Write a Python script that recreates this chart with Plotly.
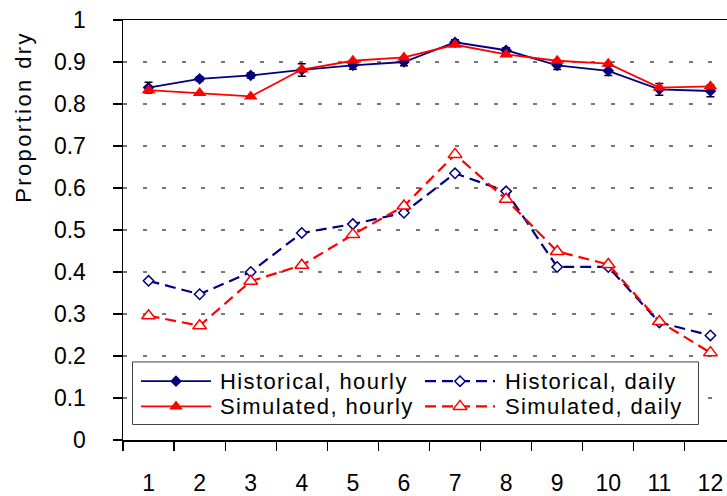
import plotly.graph_objects as go

# ---------------- data ----------------
months = [1, 2, 3, 4, 5, 6, 7, 8, 9, 10, 11, 12]
month_labels = ["1", "2", "3", "4", "5", "6", "7", "8", "9", "10", "11", "12"]

hist_hourly = [0.839, 0.860, 0.868, 0.881, 0.892, 0.900, 0.947, 0.928, 0.892, 0.879, 0.835, 0.831]
hist_hourly_err = [0.013, 0.005, 0.006, 0.015, 0.009, 0.009, 0.006, 0.006, 0.010, 0.011, 0.014, 0.014]
sim_hourly = [0.833, 0.826, 0.818, 0.882, 0.903, 0.911, 0.941, 0.918, 0.903, 0.896, 0.839, 0.842]
hist_daily = [0.379, 0.347, 0.400, 0.493, 0.514, 0.541, 0.635, 0.592, 0.412, 0.412, 0.280, 0.249]
sim_daily = [0.296, 0.272, 0.378, 0.416, 0.489, 0.557, 0.680, 0.573, 0.449, 0.418, 0.282, 0.208]

y_ticks = [0, 0.1, 0.2, 0.3, 0.4, 0.5, 0.6, 0.7, 0.8, 0.9, 1]
y_tick_labels = ["0", "0.1", "0.2", "0.3", "0.4", "0.5", "0.6", "0.7", "0.8", "0.9", "1"]
series_names = ["Historical, hourly", "Historical, daily", "Simulated, hourly", "Simulated, daily"]
y_title = "Proportion dry"

# ---------------- style ----------------
NAVY = "#000080"
RED = "#FF0000"
FONT = "Liberation Sans, Arial, sans-serif"
DASH = "11px,6px"
W, H = 727, 496
L, R, T, B = 123, 727, 20, 445

fig = go.Figure()

fig.add_trace(go.Scatter(
    x=months, y=hist_hourly, mode="lines+markers", name=series_names[0],
    line=dict(color=NAVY, width=1.8),
    marker=dict(symbol="diamond", size=9, color=NAVY),
    error_y=dict(type="data", array=hist_hourly_err, visible=True,
                 color="black", thickness=1.5, width=4),
    showlegend=False))
fig.add_trace(go.Scatter(
    x=months, y=sim_hourly, mode="lines+markers", name=series_names[2],
    line=dict(color=RED, width=1.8),
    marker=dict(symbol="triangle-up", size=12, color=RED),
    showlegend=False))
fig.add_trace(go.Scatter(
    x=months, y=hist_daily, mode="lines+markers", name=series_names[1],
    line=dict(color=NAVY, width=2.2, dash=DASH),
    marker=dict(symbol="diamond", size=8, color="white", line=dict(color=NAVY, width=1.5)),
    showlegend=False))
fig.add_trace(go.Scatter(
    x=months, y=sim_daily, mode="lines+markers", name=series_names[3],
    line=dict(color=RED, width=2.2, dash=DASH),
    marker=dict(symbol="triangle-up", size=12, color="white", line=dict(color=RED, width=1.5)),
    showlegend=False))

# ---------------- custom legend on an overlay pixel axis ----------------
def py(v):
    return H - v

box_l, box_r, box_t, box_b = 132.5, 698.5, 366, 429.3
fig.add_trace(go.Scatter(
    x=[box_l, box_r, box_r, box_l, box_l],
    y=[py(box_t), py(box_t), py(box_b), py(box_b), py(box_t)],
    mode="lines", fill="toself", fillcolor="white",
    line=dict(color="#404040", width=1), xaxis="x2", yaxis="y2",
    showlegend=False, hoverinfo="skip"))

rows = [385.5, 411.0]
cols = [(141, 211, 218), (425, 495, 503)]
legend_specs = [
    (0, 0, NAVY, "solid", dict(symbol="diamond", size=9, color=NAVY)),
    (0, 1, NAVY, DASH, dict(symbol="diamond", size=8, color="white", line=dict(color=NAVY, width=1.5))),
    (1, 0, RED, "solid", dict(symbol="triangle-up", size=12, color=RED)),
    (1, 1, RED, DASH, dict(symbol="triangle-up", size=12, color="white", line=dict(color=RED, width=1.5))),
]
annotations = []
for (ri, ci, col, dash, mk), name in zip(legend_specs, series_names):
    x0, x1, xt = cols[ci]
    yy = py(rows[ri])
    fig.add_trace(go.Scatter(
        x=[x0, x1], y=[yy, yy], mode="lines",
        line=dict(color=col, width=1.8 if dash == "solid" else 2.2, dash=dash),
        xaxis="x2", yaxis="y2", showlegend=False, hoverinfo="skip"))
    fig.add_trace(go.Scatter(
        x=[(x0 + x1) / 2], y=[yy], mode="markers", marker=mk,
        xaxis="x2", yaxis="y2", showlegend=False, hoverinfo="skip"))
    annotations.append(dict(
        x=xt, y=yy, xref="x2", yref="y2", xanchor="left", yanchor="middle",
        text='<span style="letter-spacing:1.4px">%s</span>' % name,
        showarrow=False, font=dict(family=FONT, size=22, color="black")))

# y-axis title
annotations.append(dict(
    x=(24 - L) / (R - L), y=(B - 118) / (B - T), xref="paper", yref="paper",
    xanchor="center", yanchor="middle", textangle=-90,
    text='<span style="letter-spacing:2.4px">%s</span>' % y_title,
    showarrow=False, font=dict(family=FONT, size=22, color="black")))

fig.update_layout(
    width=W, height=H,
    margin=dict(l=L, r=W - R, t=T, b=H - B, pad=0),
    paper_bgcolor="white", plot_bgcolor="white",
    font=dict(family=FONT, size=23, color="black"),
    showlegend=False, hovermode=False,
    annotations=annotations,
    xaxis=dict(
        range=[0.5, 0.5 + (R - L) / 51.08],
        tickmode="array", tickvals=months, ticktext=month_labels,
        ticks="", showgrid=False, zeroline=False,
        showline=True, linecolor="black", linewidth=1.5, mirror=True,
        ticklabelstandoff=22, showspikes=False,
        tickfont=dict(family=FONT, size=23, color="black"),
        minor=dict(ticks="outside", ticklen=9, tickwidth=1.2, tickcolor="black",
                   tickmode="array", tickvals=[m - 0.5 for m in months], showgrid=False),
    ),
    yaxis=dict(
        range=[0, 1], tickmode="array", tickvals=y_ticks, ticktext=y_tick_labels,
        ticks="outside", ticklen=9, tickwidth=1.2, tickcolor="black",
        showline=True, linecolor="black", linewidth=1.5, zeroline=False, mirror=False,
        showgrid=True, gridcolor="#777777", gridwidth=1.2, griddash="4px,15.5px",
        ticklabelstandoff=22, showspikes=False,
        tickfont=dict(family=FONT, size=23, color="black"),
    ),
    xaxis2=dict(overlaying="x", range=[L, R], visible=False),
    yaxis2=dict(overlaying="y", range=[H - B, H - T], visible=False),
)

fig.write_html("out.html", config={"displayModeBar": False, "staticPlot": True},
               post_script="document.body.style.margin='0px';document.body.style.padding='0px';document.body.style.overflow='hidden';")
